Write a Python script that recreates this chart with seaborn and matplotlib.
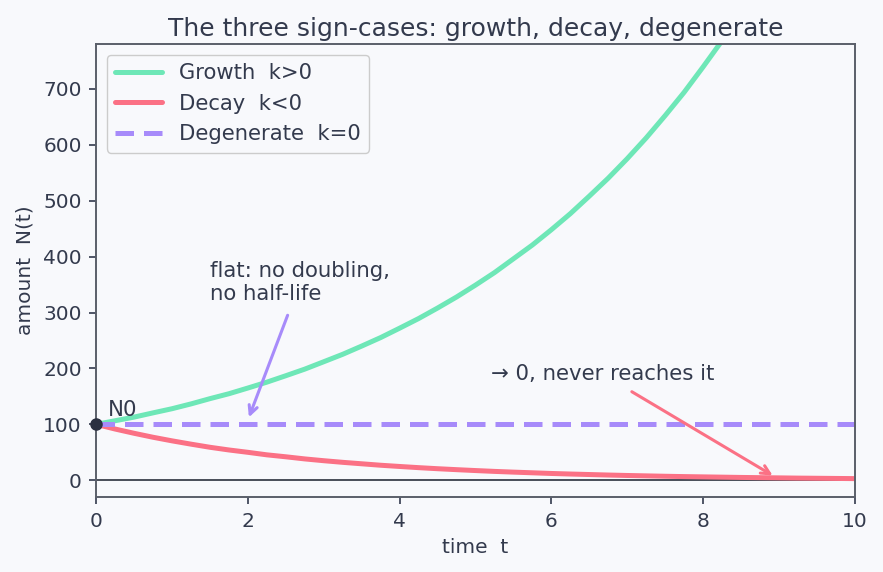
import numpy as np
import pandas as pd
import matplotlib.pyplot as plt
import seaborn as sns

# values
t = [0, 0.25, 0.5, 0.75, 1, 1.25, 1.5, 1.75, 2, 2.25, 2.5, 2.75, 3, 3.25, 3.5, 3.75, 4,
     4.25, 4.5, 4.75, 5, 5.25, 5.5, 5.75, 6, 6.25, 6.5, 6.75, 7, 7.25, 7.5, 7.75, 8,
     8.25, 8.5, 8.75, 9, 9.25, 9.5, 9.75, 10]
growth = [100, 106.5, 113, 120.6, 128, 136.6, 146, 154.8, 165, 175.5, 187, 198.8, 212,
          225.3, 240, 255.2, 272, 289.2, 308, 327.7, 349, 371.3, 396, 420.7, 448, 476.7,
          508, 540.2, 575, 612.1, 652, 693.6, 739, 785.9, 837, 890.5, 949, 1008, 1075,
          1144, 1218]
decay = [100, 91.6, 84, 76.9, 70.5, 64.6, 59, 54.2, 50, 45.5, 42, 38.2, 35, 32.1, 29.5,
         26.9, 24.7, 22.6, 20.7, 19.0, 17.4, 15.9, 14.6, 13.4, 12.2, 11.2, 10.3, 9.4, 8.6,
         7.9, 7.2, 6.6, 6.1, 5.6, 5.1, 4.7, 4.3, 3.9, 3.6, 3.3, 3.0]
flat = [100] * len(t)
n0 = 100

ink = '#333a4d'
bg = '#f8f9fc'
c_grow = '#6ee7b7'
c_decay = '#fb7185'
c_flat = '#a78bfa'

sns.set_theme(style='white')
plt.rcParams.update({
    'figure.facecolor': bg, 'axes.facecolor': bg,
    'text.color': ink, 'axes.labelcolor': ink,
    'xtick.color': ink, 'ytick.color': ink,
    'axes.edgecolor': '#5a5f6a',
})
plt.rcParams['font.family'] = ['DejaVu Sans']

df = pd.DataFrame({'t': t, 'growth': growth, 'decay': decay, 'flat': flat})

fig, ax = plt.subplots(figsize=(8.83, 5.72), dpi=100)
fig.subplots_adjust(left=0.109, right=0.968, top=0.923, bottom=0.131)

sns.lineplot(data=df, x='t', y='growth', ax=ax, color=c_grow, lw=3.6, label='Growth  k>0')
sns.lineplot(data=df, x='t', y='decay', ax=ax, color=c_decay, lw=3.6, label='Decay  k<0')
sns.lineplot(data=df, x='t', y='flat', ax=ax, color=c_flat, lw=3.6, ls=(0, (3.7, 2)), label='Degenerate  k=0')

ax.axhline(0, color='#3a3f4b', lw=1.3, zorder=1)
ax.plot([0], [n0], 'o', color='#2b3040', ms=8, zorder=5, clip_on=False)
ax.text(0.15, 115, 'N0', fontsize=15.3, color=ink)

ax.annotate('flat: no doubling,\nno half-life', xy=(2.0, 108), xytext=(1.5, 322),
            fontsize=15.3, color=ink,
            arrowprops=dict(arrowstyle='->', color=c_flat, lw=2.2, shrinkA=6))
ax.annotate('→ 0, never reaches it', xy=(8.95, 6), xytext=(5.2, 179),
            fontsize=15.3, color=ink,
            arrowprops=dict(arrowstyle='->', color=c_decay, lw=2.2, shrinkA=6))

ax.set_xlim(0, 10)
ax.set_ylim(-30, 780)
ax.set_xticks([0, 2, 4, 6, 8, 10])
ax.set_yticks([0, 100, 200, 300, 400, 500, 600, 700])
ax.tick_params(labelsize=14.5, length=5, width=1.2, pad=5.5, bottom=True, left=True)
ax.set_xlabel('time  t', fontsize=14.5, labelpad=5)
ax.set_ylabel('amount  N(t)', fontsize=14.5, labelpad=6)
ax.set_title('The three sign-cases: growth, decay, degenerate', fontsize=18, color=ink)
for s in ax.spines.values():
    s.set_linewidth(1.4)

leg = ax.legend(loc='upper left', fontsize=15.2, frameon=True, facecolor=bg,
                edgecolor='#cccccc', framealpha=1, handlelength=2.2)
for txt in leg.get_texts():
    txt.set_color(ink)

fig.savefig('out.png', dpi=100, facecolor=bg)
